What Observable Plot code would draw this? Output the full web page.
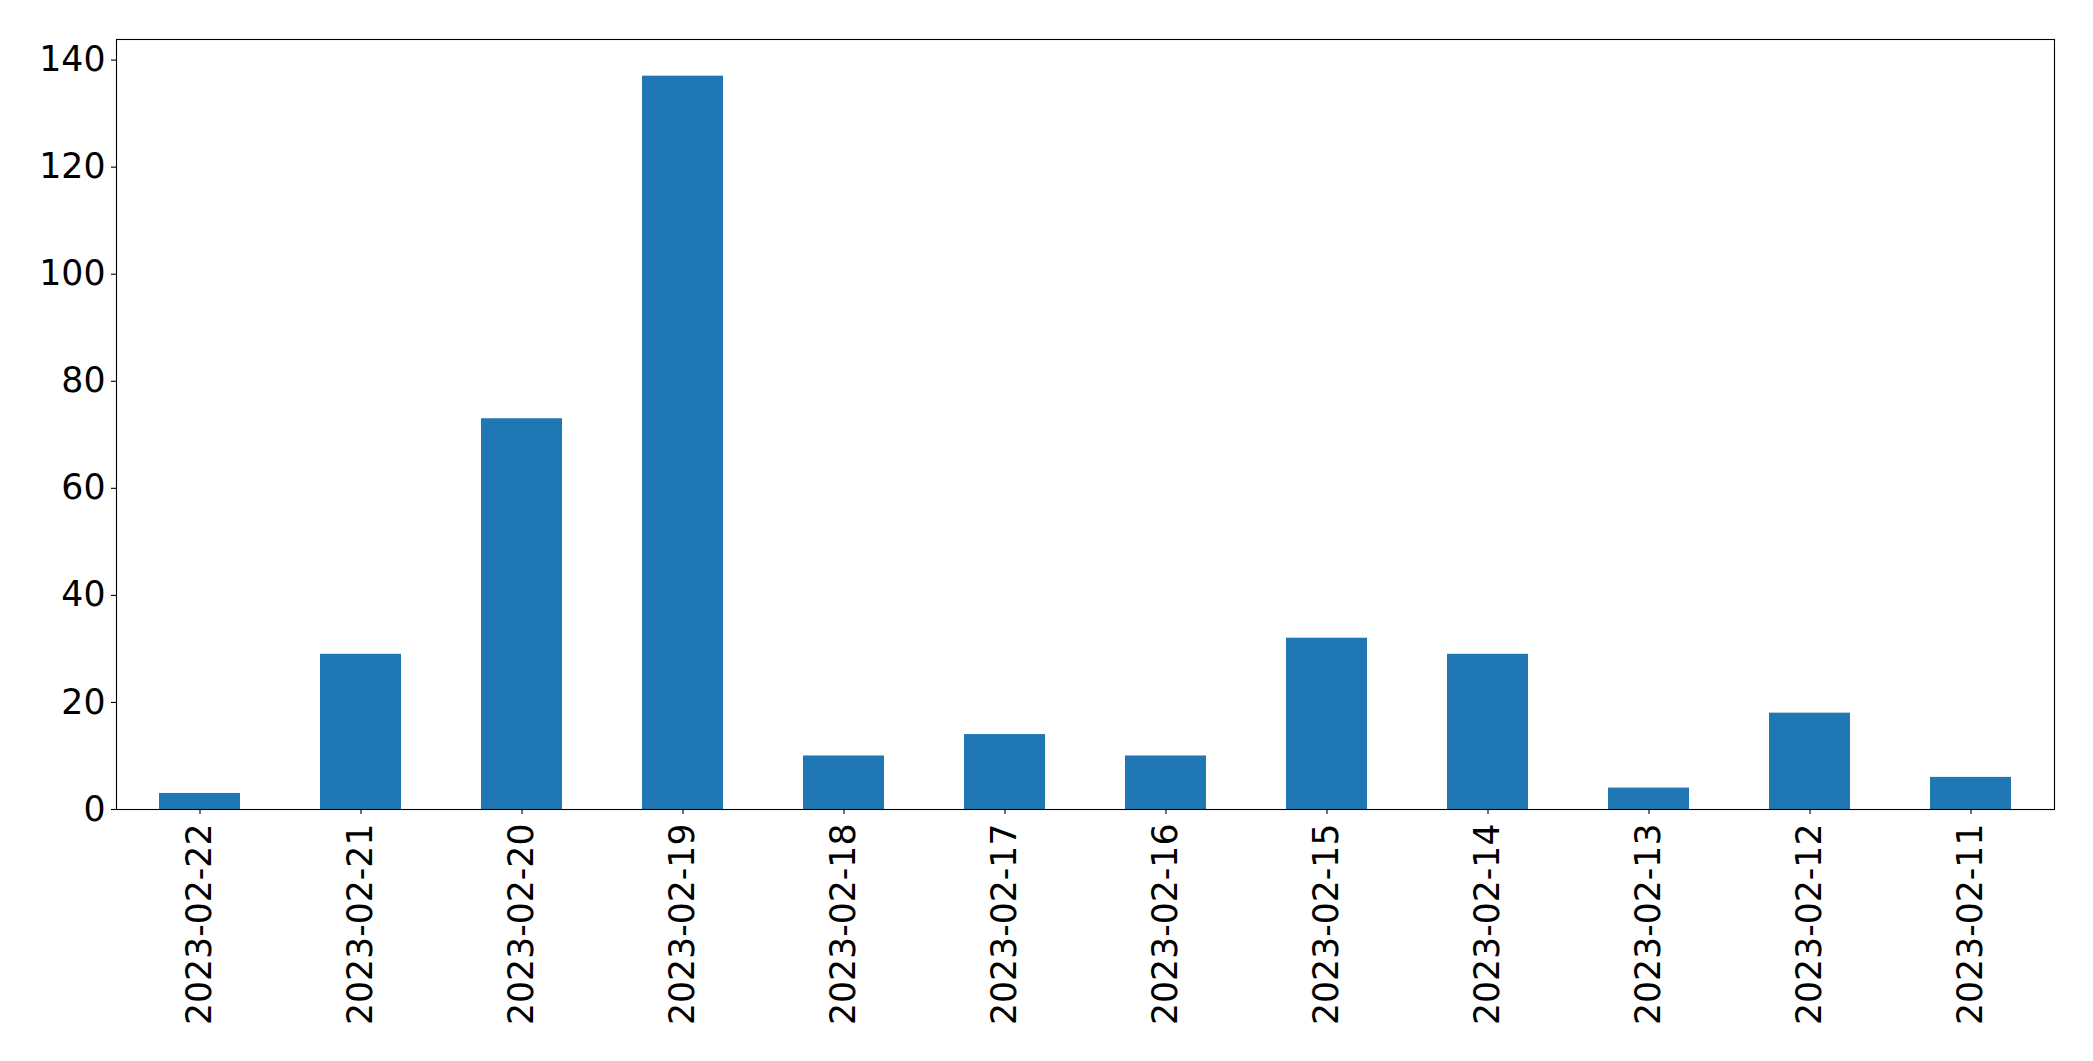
<!DOCTYPE html>
<html>
<head>
<meta charset="utf-8">
<script src="https://cdn.jsdelivr.net/npm/d3@7"></script>
<script src="https://cdn.jsdelivr.net/npm/@observablehq/plot@0.6"></script>
<style>
  html, body { margin: 0; padding: 0; background: #fff; }
  #chart svg { display: block; }
</style>
</head>
<body>
<div id="chart"></div>
<script>
const dates = ["2023-02-22","2023-02-21","2023-02-20","2023-02-19","2023-02-18","2023-02-17","2023-02-16","2023-02-15","2023-02-14","2023-02-13","2023-02-12","2023-02-11"];
const counts = [3, 29, 73, 137, 10, 14, 10, 32, 29, 4, 18, 6];
const yTicks = [0, 20, 40, 60, 80, 100, 120, 140];

const data = dates.map((d, i) => ({date: d, count: counts[i]}));
const ymax = d3.max(counts) * 1.05;

const chart = Plot.plot({
  width: 2093,
  height: 1061,
  marginLeft: 116,
  marginRight: 39,
  marginTop: 39,
  marginBottom: 252,
  style: {fontFamily: "DejaVu Sans", fontSize: "34.7px", color: "black", background: "white"},
  x: {type: "band", domain: dates, paddingInner: 0.5, paddingOuter: 0.25, label: null},
  y: {domain: [0, ymax], label: null},
  marks: [
    Plot.barY(data, {x: "date", y: "count", fill: "#1f77b4"}),
    Plot.axisY({ticks: yTicks, tickSize: 5, tickPadding: 6, tickFormat: d => String(d), label: null, fontSize: 34.7, strokeWidth: 1.1}),
    Plot.axisX({tickSize: 5, tickPadding: 9, tickRotate: -90, label: null, fontSize: 34.7, strokeWidth: 1.1}),
    Plot.frame({stroke: "black", strokeWidth: 1.1})
  ]
});
document.getElementById("chart").appendChild(chart);
</script>
</body>
</html>
